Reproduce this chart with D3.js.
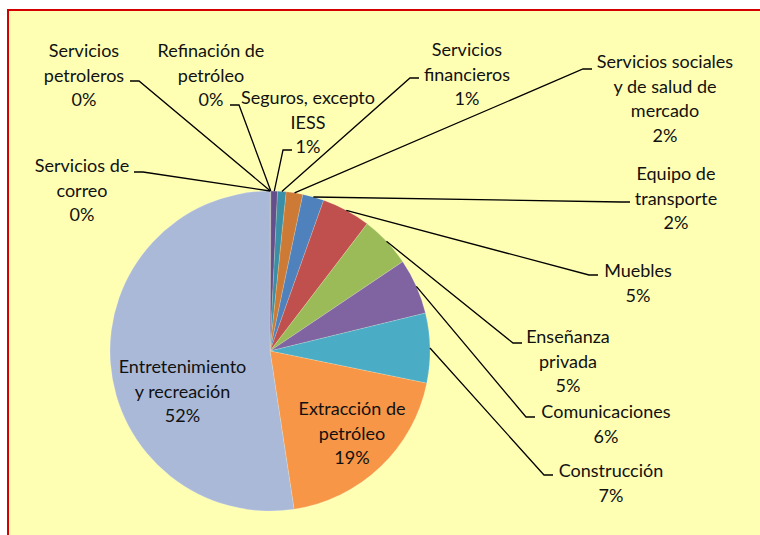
<!DOCTYPE html>
<html>
<head>
<meta charset="utf-8">
<script src="https://cdn.jsdelivr.net/npm/d3@7"></script>
<style>
  html, body { margin: 0; padding: 0; background: #fff; }
  svg { display: block; }
  text { font-family: Lato, "Noto Sans", sans-serif; font-size: 18px; fill: #111; }
</style>
</head>
<body>
<div id="chart"></div>
<script>
// sectors, clockwise from 12 o'clock
const sectors = [
  'Servicios de correo', 'Servicios petroleros', 'Refinación de petróleo',
  'Seguros, excepto IESS', 'Servicios financieros',
  'Servicios sociales y de salud de mercado', 'Equipo de transporte',
  'Muebles', 'Enseñanza privada', 'Comunicaciones', 'Construcción',
  'Extracción de petróleo', 'Entretenimiento y recreación'
];
const values = [0.03, 0.03, 0.04, 0.65, 0.86, 1.67, 2.14, 4.92, 5.17, 5.6, 7.0, 19.3, 52.2];
const labelLines = [
  ['Servicios de', 'correo'], ['Servicios', 'petroleros'], ['Refinación de', 'petróleo'],
  ['Seguros, excepto', 'IESS'], ['Servicios', 'financieros'],
  ['Servicios sociales', 'y de salud de', 'mercado'], ['Equipo de', 'transporte'],
  ['Muebles'], ['Enseñanza', 'privada'], ['Comunicaciones'], ['Construcción'],
  ['Extracción de', 'petróleo'], ['Entretenimiento', 'y recreación']
];
const colors = [
  '#7d9a46', '#9a3f3c', '#3d6696', '#654f8a', '#3a8fa6', '#cc7a35', '#4f81bd',
  '#c0504d', '#9bbb59', '#8064a2', '#4bacc6', '#f79646', '#aab9d7'
];

// label placement (text centre, first baseline, leader start)
const labelLayout = [
  { x: 82, y: 172, lx: 134, ly: 172 },
  { x: 84, y: 57, lx: 130, ly: 81 },
  { x: 211, y: 57, lx: 230, ly: 105 },
  { x: 308, y: 104, lx: 292, ly: 150 },
  { x: 467, y: 56, lx: 419, ly: 78 },
  { x: 665, y: 68, lx: 592, ly: 69 },
  { x: 676, y: 180, lx: 630, ly: 202 },
  { x: 638, y: 277, lx: 598, ly: 275 },
  { x: 568, y: 343, lx: 522, ly: 343 },
  { x: 606, y: 418, lx: 535, ly: 417 },
  { x: 611, y: 477, lx: 553, ly: 475 },
  { x: 352, y: 415 },
  { x: 182.5, y: 373 }
];

const width = 760;
const height = 535;
const cx = 270;
const cy = 351;
const radius = 160;
const lineH = 24.5;

const data = sectors.map((name, i) => ({
  name: name, value: values[i], color: colors[i], lines: labelLines[i], pos: labelLayout[i]
}));
const total = d3.sum(values);
const pct = d3.format('.0%');

const svg = d3.select('#chart').append('svg')
  .attr('width', width)
  .attr('height', height);

svg.append('rect')
  .attr('x', 8).attr('y', 10)
  .attr('width', width + 20).attr('height', height + 20)
  .attr('fill', '#ffffb3')
  .attr('stroke', '#d40000')
  .attr('stroke-width', 2);

const pie = d3.pie().sort(null).value(d => d.value);
const arcs = pie(data);
const arc = d3.arc().innerRadius(0).outerRadius(radius);

const g = svg.append('g').attr('transform', `translate(${cx},${cy})`);

g.selectAll('path')
  .data(arcs)
  .join('path')
  .attr('d', arc)
  .attr('fill', d => d.data.color)
  .attr('stroke', 'rgba(255,255,255,0.35)')
  .attr('stroke-width', 0.5);

// leader lines
const edge = a => {
  const m = (a.startAngle + a.endAngle) / 2;
  return [cx + radius * Math.sin(m), cy - radius * Math.cos(m)];
};
svg.append('g')
  .attr('fill', 'none')
  .attr('stroke', '#000')
  .attr('stroke-width', 1.3)
  .selectAll('polyline')
  .data(arcs.filter(a => a.data.pos.lx !== undefined))
  .join('polyline')
  .attr('points', a => {
    const p = a.data.pos;
    const elbow = p.lx + (p.x < cx ? 9 : -9);
    return [[p.lx, p.ly], [elbow, p.ly], edge(a)].map(q => q.join(',')).join(' ');
  });

// labels
const labels = svg.append('g')
  .selectAll('text')
  .data(arcs)
  .join('text')
  .attr('text-anchor', 'middle');

labels.selectAll('tspan')
  .data(a => a.data.lines.concat([pct(a.data.value / total)]).map((t, i) => ({ t, i, p: a.data.pos })))
  .join('tspan')
  .attr('x', d => d.p.x)
  .attr('y', d => d.p.y + d.i * lineH)
  .text(d => d.t);
</script>
</body>
</html>
